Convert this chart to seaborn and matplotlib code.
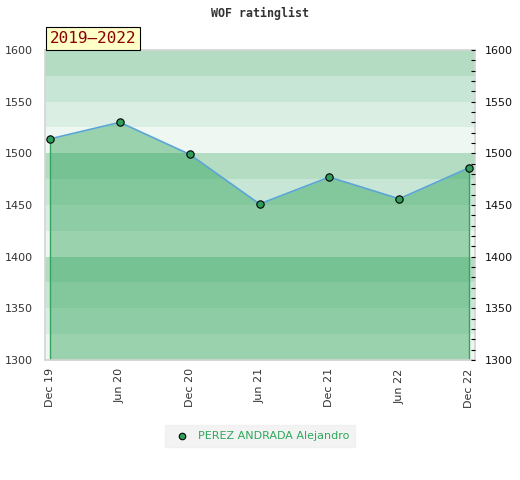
import matplotlib
matplotlib.use("Agg")
import matplotlib.pyplot as plt
import seaborn as sns
import pandas as pd
import numpy as np
from matplotlib.ticker import MultipleLocator

periods = ["Dec 19", "Jun 20", "Dec 20", "Jun 21", "Dec 21", "Jun 22", "Dec 22"]
ratings = [1514, 1530, 1499, 1451, 1477, 1456, 1486]
player = "PEREZ ANDRADA Alejandro"
title = "WOF ratinglist"
period_label = "2019\u20132022"

sns.set_theme(style="white")
plt.rcParams['font.family'] = ['DejaVu Sans']

df = pd.DataFrame({"x": np.arange(len(periods)), "rating": ratings})

fig = plt.figure(figsize=(5.2, 4.8), dpi=100)
ax = fig.add_axes([45/520, 1-360/480, 430/520, 310/480])

# background bands
band_cols = ["#b3dcc3", "#c8e6d5", "#dbeee3", "#eef7f1"]
for base in (1300, 1400, 1500):
    for i, c in enumerate(band_cols):
        top = base + 100 - 25*i
        ax.axhspan(top-25, top, color=c, lw=0, zorder=0)

ax.fill_between(df["x"], df["rating"], 1300, color="#229d4f", alpha=0.41, lw=0, zorder=1)
ax.vlines([df["x"].iloc[0], df["x"].iloc[-1]], 1300, [df["rating"].iloc[0], df["rating"].iloc[-1]],
          color="#34a55c", lw=1.0, zorder=2)
sns.lineplot(data=df, x="x", y="rating", ax=ax, color="#5aa5d6", lw=1.2, zorder=3, legend=False)
sns.scatterplot(data=df, x="x", y="rating", ax=ax, color="#2e9e5a", edgecolor="black",
                linewidth=0.8, s=28, zorder=4, legend=False)

ax.set_xlim(-0.072, 6.086)
ax.set_ylim(1300, 1600)
ax.set_xlabel("")
ax.set_ylabel("")
ax.set_xticks(df["x"])
ax.set_xticklabels(periods, rotation=90, fontsize=8, color="#333333")
ax.set_yticks(np.arange(1300, 1601, 50))
ax.tick_params(axis="y", labelsize=8, colors="#333333", length=0, pad=9)
ax.tick_params(axis="x", length=0, pad=6)
for s in ax.spines.values():
    s.set_color("#d4d4d4")
    s.set_linewidth(1.2)

ax2 = ax.twinx()
ax2.set_ylim(1300, 1600)
ax2.yaxis.set_major_locator(MultipleLocator(50))
ax2.yaxis.set_minor_locator(MultipleLocator(10))
ax2.tick_params(axis="y", which="both", direction="in", length=3, width=0.8, colors="black",
                labelsize=8, labelcolor="#111111", pad=7)
for s in ax2.spines.values():
    s.set_visible(False)

fig.text(260/520, 1-13/480, title, ha="center", va="center", fontsize=8.4,
         fontweight="bold", family="DejaVu Sans Mono", color="#333333")
fig.text(50/520, 1-46/480, period_label, ha="left", va="bottom", fontsize=11.5,
         family="DejaVu Sans Mono", color="#8b0000", zorder=10,
         bbox=dict(boxstyle="square,pad=0.22", fc="#ffffc8", ec="black", lw=0.8))

h = ax.scatter([], [], color="#2e9e5a", edgecolor="black", s=22, linewidth=0.8)
leg = fig.legend([h], [player], loc="center", bbox_to_anchor=(260/520, 1-436/480),
                 frameon=True, fontsize=8, handletextpad=0.4, borderpad=0.5,
                 fancybox=False)
leg.get_frame().set_facecolor("#f0f0f0")
leg.get_frame().set_edgecolor("#f0f0f0")
for t in leg.get_texts():
    t.set_color("#2ea85a")

fig.savefig("out.png", dpi=100)
